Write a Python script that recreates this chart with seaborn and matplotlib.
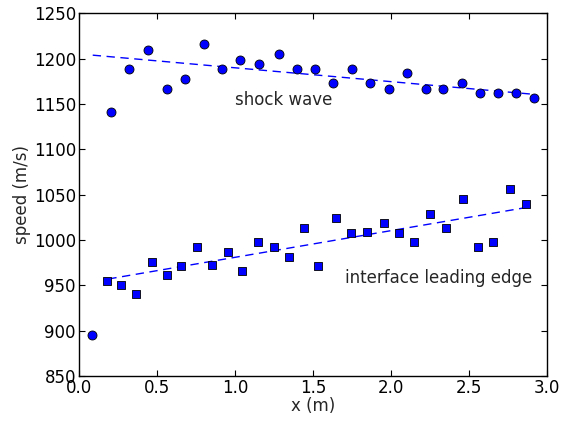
import matplotlib
matplotlib.use("Agg")
import matplotlib.pyplot as plt
import seaborn as sns
import numpy as np
import pandas as pd

# ---- data ----
shock_x = [0.088, 0.208, 0.325, 0.447, 0.564, 0.679, 0.801, 0.920, 1.035, 1.157,
           1.281, 1.398, 1.513, 1.630, 1.752, 1.867, 1.985, 2.102, 2.223, 2.334,
           2.452, 2.569, 2.684, 2.799, 2.916]
shock_y = [895, 1141, 1189, 1210, 1167, 1178, 1216, 1189, 1199, 1194,
           1205, 1189, 1189, 1173, 1189, 1173, 1167, 1184, 1167, 1167,
           1173, 1162, 1162, 1162, 1157]

iface_x = [0.180, 0.272, 0.370, 0.468, 0.566, 0.658, 0.760, 0.852, 0.958, 1.048,
           1.147, 1.249, 1.347, 1.445, 1.534, 1.648, 1.743, 1.848, 1.953, 2.051,
           2.148, 2.251, 2.351, 2.460, 2.558, 2.654, 2.761, 2.863]
iface_y = [955, 950, 940, 976, 961, 971, 992, 972, 987, 966,
           998, 992, 981, 1013, 971, 1024, 1008, 1009, 1019, 1008,
           998, 1029, 1013, 1045, 992, 998, 1056, 1040]

shock_fit_x = [0.09, 2.90]
shock_fit_y = [1204, 1161]
iface_fit_x = [0.19, 2.87]
iface_fit_y = [957, 1036]

x_ticks = [0.0, 0.5, 1.0, 1.5, 2.0, 2.5, 3.0]
y_ticks = [850, 900, 950, 1000, 1050, 1100, 1150, 1200, 1250]

sns.set_style("ticks")
plt.rcParams.update({
    "font.family": ["DejaVu Sans"],
    "xtick.direction": "in", "ytick.direction": "in",
    "xtick.top": True, "ytick.right": True,
    "xtick.major.size": 4, "ytick.major.size": 4,
    "axes.edgecolor": "black", "axes.linewidth": 1.0,
    "xtick.color": "black", "ytick.color": "black",
})

fig = plt.figure(figsize=(5.70, 4.21), dpi=100)
ax = fig.add_axes([0.138, 0.107, 0.822, 0.861])

shock = pd.DataFrame({"x": shock_x, "y": shock_y})
iface = pd.DataFrame({"x": iface_x, "y": iface_y})
sfit = pd.DataFrame({"x": shock_fit_x, "y": shock_fit_y})
ifit = pd.DataFrame({"x": iface_fit_x, "y": iface_fit_y})

sns.lineplot(data=sfit, x="x", y="y", ax=ax, color="blue", linewidth=1.0,
             linestyle=(0, (6, 4)))
sns.lineplot(data=ifit, x="x", y="y", ax=ax, color="blue", linewidth=1.0,
             linestyle=(0, (6, 4)))
sns.scatterplot(data=shock, x="x", y="y", ax=ax, marker="o", s=42,
                color="#0000ff", edgecolor="black", linewidth=0.6, zorder=3)
sns.scatterplot(data=iface, x="x", y="y", ax=ax, marker="s", s=36,
                color="#0000ff", edgecolor="black", linewidth=0.6, zorder=3)

ax.text(1.0, 1155, "shock wave", fontsize=12, va="center", ha="left")
ax.text(1.705, 958, "interface leading edge", fontsize=12, va="center", ha="left")

ax.set_xlim(0, 3.0)
ax.set_ylim(850, 1250)
ax.set_xticks(x_ticks)
ax.set_yticks(y_ticks)
ax.set_xticklabels([f"{t:.1f}" for t in x_ticks], fontsize=12)
ax.set_yticklabels([str(t) for t in y_ticks], fontsize=12)
ax.tick_params(pad=2)
ax.set_xlabel("x (m)", fontsize=12, labelpad=0)
ax.set_ylabel("speed (m/s)", fontsize=12, labelpad=2)

fig.savefig("out.png", dpi=100)
